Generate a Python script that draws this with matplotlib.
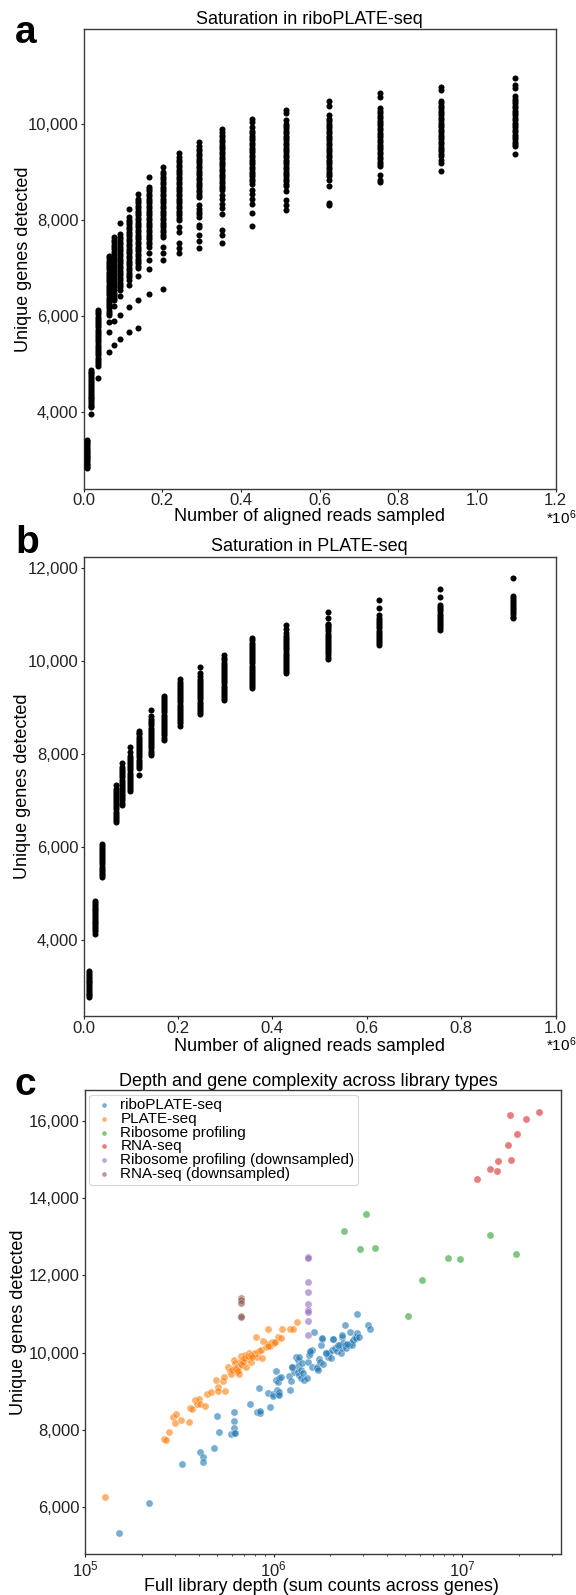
import matplotlib
matplotlib.use("Agg")
import matplotlib.pyplot as plt
from matplotlib.ticker import FuncFormatter

plt.rcParams['font.family'] = ['Liberation Sans', 'DejaVu Sans']
plt.rcParams['mathtext.fontset'] = 'custom'
plt.rcParams['mathtext.rm'] = 'Liberation Sans'
plt.rcParams['mathtext.it'] = 'Liberation Sans:italic'
plt.rcParams['mathtext.bf'] = 'Liberation Sans:bold'

# ---------------- Panel a: riboPLATE-seq saturation (reads in millions) ----------------
a_reads = [0.008, 0.020, 0.036, 0.065, 0.078, 0.094, 0.115, 0.138, 0.167, 0.201,
           0.243, 0.293, 0.353, 0.428, 0.516, 0.624, 0.754, 0.908, 1.098]
a_g00 = [2841, 2870, 2905, 2935, 2968, 3000, 3032, 3065, 3098, 3130, 3160, 3195, 3228, 3262, 3300, 3335, 3372, 3405, 3427]
a_g01 = [3965, 4103, 4138, 4175, 4215, 4255, 4290, 4330, 4370, 4408, 4450, 4490, 4530, 4570, 4610, 4650, 4690, 4730, 4770, 4810, 4845, 4876]
a_g02 = [4710, 4965, 5005, 5050, 5095, 5140, 5185, 5230, 5275, 5320, 5365, 5410, 5455, 5500, 5545, 5590, 5635, 5680, 5725, 5770, 5815, 5860, 5905, 5950, 5995, 6040, 6085, 6138]
a_g03 = [5262, 5676, 5876, 6034, 6075, 6120, 6165, 6210, 6255, 6300, 6345, 6390, 6435, 6480, 6525, 6570, 6615, 6660, 6705, 6750, 6795, 6840, 6885, 6930, 6975, 7020, 7065, 7110, 7160, 7210, 7262]
a_g04 = [5400, 5910, 6207, 6345, 6390, 6440, 6490, 6540, 6590, 6640, 6690, 6740, 6790, 6840, 6890, 6940, 6990, 7040, 7090, 7140, 7190, 7240, 7290, 7340, 7390, 7440, 7490, 7540, 7590, 7641]
a_g05 = [5531, 6028, 6428, 6552, 6600, 6650, 6700, 6750, 6800, 6850, 6900, 6950, 7000, 7050, 7100, 7150, 7200, 7250, 7300, 7350, 7400, 7450, 7500, 7550, 7600, 7650, 7710, 7931]
a_g06 = [5676, 6193, 6655, 6759, 6810, 6860, 6910, 6960, 7010, 7060, 7110, 7160, 7210, 7260, 7310, 7360, 7410, 7460, 7510, 7560, 7610, 7660, 7710, 7760, 7810, 7860, 7910, 7960, 8010, 8069, 8241]
a_g07 = [5759, 6345, 6828, 7000, 7050, 7100, 7150, 7200, 7250, 7300, 7350, 7400, 7450, 7500, 7550, 7600, 7650, 7700, 7750, 7800, 7850, 7900, 7950, 8000, 8050, 8100, 8150, 8200, 8250, 8300, 8350, 8400, 8448, 8552]
a_g08 = [6462, 6986, 7172, 7310, 7448, 7500, 7550, 7600, 7650, 7700, 7750, 7800, 7850, 7900, 7950, 8000, 8050, 8100, 8150, 8200, 8250, 8300, 8350, 8400, 8450, 8500, 8550, 8600, 8650, 8690, 8897]
a_g09 = [6566, 7172, 7310, 7448, 7655, 7700, 7750, 7800, 7850, 7900, 7950, 8000, 8050, 8100, 8150, 8200, 8250, 8300, 8350, 8400, 8450, 8500, 8550, 8600, 8650, 8700, 8750, 8800, 8850, 8900, 8950, 9000, 9103]
a_g10 = [7324, 7414, 7517, 7759, 7862, 8000, 8050, 8100, 8150, 8200, 8250, 8300, 8350, 8400, 8450, 8500, 8550, 8600, 8650, 8700, 8750, 8800, 8850, 8900, 8950, 9000, 9050, 9100, 9150, 9200, 9250, 9310, 9400]
a_g11 = [7428, 7572, 7690, 7862, 7900, 8069, 8120, 8180, 8240, 8310, 8480, 8530, 8580, 8630, 8680, 8730, 8780, 8830, 8880, 8930, 8980, 9030, 9080, 9130, 9180, 9230, 9280, 9330, 9380, 9430, 9480, 9552, 9634]
a_g12 = [7517, 7690, 7793, 8138, 8250, 8345, 8430, 8517, 8621, 8670, 8720, 8770, 8820, 8870, 8920, 8970, 9020, 9070, 9120, 9170, 9220, 9270, 9320, 9370, 9420, 9470, 9520, 9570, 9620, 9670, 9720, 9770, 9828, 9897]
a_g13 = [7876, 8152, 8345, 8440, 8540, 8621, 8759, 8810, 8860, 8910, 8960, 9010, 9060, 9110, 9160, 9210, 9260, 9310, 9360, 9410, 9460, 9510, 9560, 9610, 9660, 9710, 9760, 9810, 9860, 9931, 10034, 10103]
a_g14 = [8221, 8305, 8429, 8602, 8706, 8760, 8810, 8860, 8910, 8960, 9010, 9060, 9110, 9160, 9210, 9260, 9310, 9360, 9410, 9460, 9510, 9560, 9610, 9660, 9710, 9760, 9810, 9860, 9910, 9960, 10010, 10090, 10228, 10284]
a_g15 = [8305, 8360, 8706, 8844, 8914, 8960, 9010, 9060, 9110, 9160, 9210, 9260, 9310, 9360, 9410, 9460, 9510, 9560, 9610, 9660, 9710, 9760, 9810, 9860, 9910, 9960, 10010, 10060, 10110, 10194, 10380, 10470]
a_g16 = [8789, 8844, 8948, 9121, 9170, 9220, 9270, 9320, 9370, 9420, 9470, 9520, 9570, 9620, 9670, 9720, 9770, 9820, 9870, 9920, 9970, 10020, 10070, 10120, 10170, 10220, 10270, 10332, 10561, 10644]
a_g17 = [9017, 9190, 9260, 9329, 9380, 9430, 9480, 9530, 9580, 9630, 9680, 9730, 9780, 9830, 9880, 9930, 9980, 10030, 10080, 10130, 10180, 10230, 10280, 10330, 10380, 10430, 10484, 10713, 10768]
a_g18 = [9384, 9536, 9580, 9630, 9680, 9730, 9780, 9830, 9880, 9930, 9980, 10030, 10080, 10130, 10180, 10230, 10280, 10330, 10380, 10430, 10480, 10530, 10574, 10747, 10817, 10955]
a_genes = [a_g00, a_g01, a_g02, a_g03, a_g04, a_g05, a_g06, a_g07, a_g08, a_g09,
           a_g10, a_g11, a_g12, a_g13, a_g14, a_g15, a_g16, a_g17, a_g18]

# ---------------- Panel b: PLATE-seq saturation ----------------
b_reads = [0.012, 0.024, 0.040, 0.068, 0.082, 0.098, 0.118, 0.142, 0.171, 0.205,
           0.247, 0.297, 0.357, 0.430, 0.518, 0.626, 0.755, 0.910]
b_g00 = [2764, 2800, 2840, 2880, 2920, 2960, 3000, 3040, 3080, 3120, 3160, 3200, 3240, 3280, 3317]
b_g01 = [4129, 4190, 4230, 4270, 4310, 4350, 4390, 4430, 4470, 4510, 4550, 4590, 4630, 4670, 4710, 4750, 4790, 4826]
b_g02 = [5351, 5395, 5440, 5485, 5530, 5575, 5620, 5665, 5710, 5755, 5800, 5845, 5890, 5935, 5980, 6025, 6069]
b_g03 = [6536, 6580, 6625, 6670, 6715, 6760, 6805, 6850, 6895, 6940, 6985, 7030, 7075, 7120, 7165, 7210, 7255, 7327]
b_g04 = [6910, 6955, 7000, 7045, 7090, 7135, 7180, 7225, 7270, 7315, 7360, 7405, 7450, 7495, 7540, 7585, 7630, 7675, 7715, 7808]
b_g05 = [7197, 7240, 7285, 7330, 7375, 7420, 7465, 7510, 7555, 7600, 7645, 7690, 7735, 7780, 7825, 7870, 7915, 7960, 8038, 8146]
b_g06 = [7557, 7700, 7745, 7790, 7835, 7880, 7925, 7970, 8015, 8060, 8105, 8150, 8195, 8240, 8285, 8330, 8375, 8420, 8460, 8505]
b_g07 = [7988, 8030, 8075, 8120, 8165, 8210, 8255, 8300, 8345, 8390, 8435, 8480, 8525, 8570, 8615, 8660, 8705, 8750, 8829, 8944]
b_g08 = [8311, 8355, 8400, 8445, 8490, 8535, 8580, 8625, 8670, 8715, 8760, 8805, 8850, 8895, 8940, 8985, 9030, 9075, 9120, 9165, 9210, 9260]
b_g09 = [8613, 8660, 8705, 8750, 8795, 8840, 8885, 8930, 8975, 9020, 9065, 9110, 9155, 9200, 9245, 9290, 9335, 9380, 9425, 9470, 9515, 9560, 9619]
b_g10 = [8858, 8905, 8950, 8995, 9040, 9085, 9130, 9175, 9220, 9265, 9310, 9355, 9400, 9445, 9490, 9535, 9580, 9625, 9670, 9734, 9878]
b_g11 = [9160, 9205, 9250, 9295, 9340, 9385, 9430, 9475, 9520, 9565, 9610, 9655, 9700, 9745, 9790, 9835, 9880, 9925, 9970, 10015, 10060, 10122]
b_g12 = [9411, 9455, 9500, 9545, 9590, 9635, 9680, 9725, 9770, 9815, 9860, 9905, 9950, 9995, 10040, 10085, 10130, 10175, 10220, 10265, 10310, 10355, 10400, 10445, 10495]
b_g13 = [9734, 9780, 9825, 9870, 9915, 9960, 10005, 10050, 10095, 10140, 10185, 10230, 10275, 10320, 10365, 10410, 10455, 10500, 10545, 10596, 10682, 10776]
b_g14 = [10057, 10100, 10145, 10190, 10235, 10280, 10325, 10370, 10415, 10460, 10505, 10550, 10595, 10640, 10685, 10730, 10775, 10811, 10933, 11063]
b_g15 = [10345, 10390, 10435, 10480, 10525, 10570, 10615, 10660, 10705, 10750, 10795, 10840, 10885, 10930, 10991, 11149, 11314]
b_g16 = [10668, 10710, 10755, 10800, 10845, 10890, 10935, 10980, 11025, 11070, 11115, 11160, 11206, 11386, 11558]
b_g17 = [10919, 10960, 11005, 11050, 11095, 11140, 11185, 11230, 11275, 11320, 11360, 11400, 11795]
b_genes = [b_g00, b_g01, b_g02, b_g03, b_g04, b_g05, b_g06, b_g07, b_g08, b_g09,
           b_g10, b_g11, b_g12, b_g13, b_g14, b_g15, b_g16, b_g17]

# ---------------- Panel c: depth vs genes ----------------
ribo_depth = [1.52e5, 2.18e5, 3.26e5, 4.05e5, 4.23e5, 4.23e5, 4.84e5, 5.01e5, 5.13e5, 5.93e5,
              6.14e5, 6.14e5, 6.14e5, 6.20e5, 6.25e5, 7.48e5, 8.18e5, 8.50e5, 8.50e5, 8.38e5,
              9.57e5, 9.37e5, 9.89e5, 9.89e5, 1.047e6, 1.057e6, 1.072e6, 1.025e6, 1.034e6, 1.053e6,
              1.072e6, 1.096e6, 1.072e6, 1.216e6, 1.21e6, 1.244e6, 1.255e6, 1.284e6, 1.313e6, 1.343e6,
              1.355e6, 1.355e6, 1.373e6, 1.391e6, 1.403e6, 1.422e6, 1.435e6, 1.455e6, 1.502e6, 1.522e6,
              1.536e6, 1.570e6, 1.592e6, 1.606e6, 1.643e6, 1.694e6, 1.709e6, 1.725e6, 1.733e6, 1.756e6,
              1.791e6, 1.807e6, 1.837e6, 1.90e6, 1.94e6, 1.97e6, 2.01e6, 2.04e6, 2.07e6, 2.12e6,
              2.18e6, 2.26e6, 2.28e6, 2.30e6, 2.32e6, 2.35e6, 2.41e6, 2.44e6, 2.51e6, 2.55e6,
              2.60e6, 2.62e6, 2.65e6, 2.71e6, 2.75e6, 2.79e6, 2.83e6, 2.79e6, 2.39e6, 3.16e6,
              3.26e6, 1.80e6, 2.06e6, 2.21e6, 2.45e6, 1.56e6, 1.91e6, 1.36e6, 1.25e6, 2.30e6]
ribo_genes = [5328, 6121, 7112, 7423, 7293, 7173, 7526, 8371, 7948, 7888,
              8474, 8241, 8043, 7931, 7931, 8664, 8474, 8431, 8491, 9095,
              8604, 8966, 8931, 8888, 9035, 8931, 8991, 9535, 9293, 9233,
              9336, 9379, 8905, 9035, 9397, 9276, 9638, 9509, 9897, 9810,
              9655, 9509, 9422, 9336, 9552, 9724, 9466, 9293, 9336, 9767,
              9940, 10000, 10069, 9638, 10543, 9638, 9595, 9552, 9828, 9767,
              10190, 10345, 9707, 10000, 9897, 9983, 9871, 10069, 10345, 10112,
              10043, 10198, 10000, 10414, 10129, 10241, 10198, 10112, 10198, 10543,
              10284, 10198, 10328, 10414, 10371, 10500, 10414, 10995, 10728, 10728,
              10608, 10367, 10350, 10198, 10216, 10043, 10000, 9897, 9638, 10469]

plate_depth = [1.28e5, 2.63e5, 2.69e5, 2.79e5, 2.91e5, 3.00e5, 3.05e5, 3.23e5, 3.55e5, 3.58e5,
               3.68e5, 3.81e5, 3.93e5, 4.02e5, 4.08e5, 4.33e5, 4.43e5, 4.63e5, 4.93e5, 5.09e5,
               5.09e5, 5.42e5, 5.50e5, 5.71e5, 5.87e5, 5.97e5, 5.47e5, 6.14e5, 6.26e5, 6.26e5,
               6.39e5, 6.47e5, 6.54e5, 6.60e5, 6.69e5, 6.84e5, 6.84e5, 7.07e5, 7.16e5, 7.22e5,
               7.41e5, 7.48e5, 7.58e5, 7.83e5, 8.00e5, 8.18e5, 8.37e5, 8.56e5, 8.65e5, 9.08e5,
               9.29e5, 9.58e5, 9.80e5, 1.00e6, 1.062e6, 8.10e5, 9.30e5, 1.11e6, 1.22e6, 1.27e6,
               1.34e6, 8.83e5, 9.40e5, 1.02e6, 6.00e5, 6.30e5, 6.70e5, 6.90e5, 7.00e5, 7.30e5,
               7.60e5, 7.70e5, 6.50e5, 1.09e6]
plate_genes = [6268, 7776, 7733, 7957, 8328, 8190, 8423, 8250, 8207, 8560,
               8543, 8785, 8673, 8802, 8681, 8621, 8931, 8983, 9285, 9121,
               9009, 9259, 9017, 9621, 9535, 9457, 9379, 9810, 9724, 9612,
               9491, 9655, 9448, 9767, 9914, 9810, 9681, 9948, 9638, 9828,
               10000, 9897, 9759, 9965, 10000, 9897, 10052, 10069, 9853, 10155,
               10224, 10181, 10284, 10241, 10397, 10393, 10625, 10625, 10600, 10600,
               10797, 10310, 10181, 10267, 9560, 9580, 9700, 9760, 9850, 9920,
               9950, 9880, 9530, 10367]

riboprof_depth = [3.11e6, 2.38e6, 2.88e6, 3.44e6, 1.41e7, 1.94e7, 8.47e6, 9.83e6, 6.15e6, 5.16e6]
riboprof_genes = [13600, 13136, 12680, 12715, 13042, 12560, 12448, 12414, 11889, 10943]

rnaseq_depth = [1.20e7, 1.41e7, 1.54e7, 1.56e7, 1.83e7, 1.75e7, 1.97e7, 1.80e7, 2.18e7, 2.57e7]
rnaseq_genes = [14495, 14753, 14710, 14951, 14977, 15372, 15665, 16146, 16052, 16232]

riboprof_ds_depth = [1.53e6, 1.53e6, 1.53e6, 1.53e6, 1.53e6, 1.53e6, 1.53e6, 1.53e6, 1.53e6]
riboprof_ds_genes = [12484, 12442, 11821, 11563, 11252, 11105, 11061, 10828, 10450]

rnaseq_ds_depth = [6.69e5, 6.69e5, 6.69e5, 6.69e5, 6.69e5]
rnaseq_ds_genes = [11423, 11364, 11294, 10950, 10916]

c_labels = ['riboPLATE-seq', 'PLATE-seq', 'Ribosome profiling', 'RNA-seq',
            'Ribosome profiling (downsampled)', 'RNA-seq (downsampled)']
c_colors = ['#1f77b4', '#ff7f0e', '#2ca02c', '#d62728', '#9467bd', '#8c564b']

# ---------------- Figure ----------------
W, H = 576, 1595
fig = plt.figure(figsize=(W / 100, H / 100), dpi=100)


def px_axes(l, t, r, b):
    return fig.add_axes([l / W, 1 - b / H, (r - l) / W, (b - t) / H])


spine_col = '#3a3a3a'
comma = FuncFormatter(lambda v, p: '{:,.0f}'.format(v))


def style(ax, xpad=1.2):
    for s in ax.spines.values():
        s.set_color(spine_col)
        s.set_linewidth(1.0)
    ax.tick_params(axis='both', which='major', direction='out', length=2.5, width=0.8,
                   pad=1.2, labelsize=12, colors='#222222', top=False, right=False)
    ax.tick_params(axis='x', which='major', pad=xpad)
    ax.tick_params(axis='both', which='minor', direction='out', length=1.6, width=0.6,
                   colors='#222222', top=False, right=False)


def saturation(ax, reads, genes, xmax, ylim, yticks, title, xlab_y, title_y, exp_y, xpad):
    for xv, col in zip(reads, genes):
        ax.scatter([xv] * len(col), col, s=19, c='black', linewidths=0, zorder=3)
    ax.set_xlim(0, xmax)
    ax.set_ylim(*ylim)
    ax.set_xticks([round(0.2 * i, 1) for i in range(int(round(xmax / 0.2)) + 1)])
    ax.xaxis.set_major_formatter(FuncFormatter(lambda v, p: '{:.1f}'.format(v)))
    ax.set_yticks(yticks)
    ax.yaxis.set_major_formatter(comma)
    style(ax, xpad)
    ax.text(0.479, title_y, title, transform=ax.transAxes, ha='center', va='baseline', fontsize=13)
    ax.text(0.479, xlab_y, 'Number of aligned reads sampled', transform=ax.transAxes,
            ha='center', va='baseline', fontsize=13)
    ax.set_ylabel('Unique genes detected', fontsize=13)
    ax.annotate('*10$^6$', xy=(1, 0), xycoords='axes fraction', xytext=(-7, exp_y),
                textcoords='offset points', ha='left', va='top', fontsize=11)


# Panel a
ax_a = px_axes(83.5, 29, 555.5, 488.5)
saturation(ax_a, a_reads, a_genes, 1.2, (2417, 11977), [4000, 6000, 8000, 10000],
           'Saturation in riboPLATE-seq', -0.071, 1.011, -14.5, 0.6)
ax_a.yaxis.set_label_coords(-0.109, 0.5)

# Panel b
ax_b = px_axes(83.5, 556.7, 555.5, 1016)
saturation(ax_b, b_reads, b_genes, 1.0, (2356, 12250), [4000, 6000, 8000, 10000, 12000],
           'Saturation in PLATE-seq', -0.0760, 1.012, -14.0, 1.2)
ax_b.yaxis.set_label_coords(-0.111, 0.5)

# Panel c
ax_c = px_axes(84.5, 1090, 561, 1554)
c_x = [ribo_depth, plate_depth, riboprof_depth, rnaseq_depth, riboprof_ds_depth, rnaseq_ds_depth]
c_y = [ribo_genes, plate_genes, riboprof_genes, rnaseq_genes, riboprof_ds_genes, rnaseq_ds_genes]
for xs, ys, lab, col in zip(c_x, c_y, c_labels, c_colors):
    ax_c.scatter(xs, ys, s=27, color=col, alpha=0.6, edgecolors='white', linewidths=0.4,
                 label=lab, zorder=3)
ax_c.set_xscale('log')
ax_c.set_xlim(0.9915e5, 3.36e7)
ax_c.set_ylim(4792, 16795)
ax_c.set_yticks([6000, 8000, 10000, 12000, 14000, 16000])
ax_c.yaxis.set_major_formatter(comma)
style(ax_c)
ax_c.text(0.470, 1.008, 'Depth and gene complexity across library types', transform=ax_c.transAxes,
          ha='center', va='baseline', fontsize=13)
ax_c.text(0.498, -0.080, 'Full library depth (sum counts across genes)', transform=ax_c.transAxes,
          ha='center', va='baseline', fontsize=13)
ax_c.set_ylabel('Unique genes detected', fontsize=13)
ax_c.yaxis.set_label_coords(-0.121, 0.5)
leg = ax_c.legend(loc='upper left', fontsize=11, markerscale=0.7, labelspacing=-0.02,
                  handletextpad=0.3, borderpad=0.25, borderaxespad=0.3, handlelength=1.5,
                  frameon=True, fancybox=True, framealpha=0.8)
leg.get_frame().set_edgecolor('#cccccc')
leg.get_frame().set_linewidth(0.8)

# Panel letters
for letter, ybase in [('a', 43), ('b', 553), ('c', 1095)]:
    fig.text(15 / W, 1 - ybase / H, letter, fontsize=28, fontweight='bold', ha='left', va='baseline')

fig.savefig('out.png', dpi=100)
